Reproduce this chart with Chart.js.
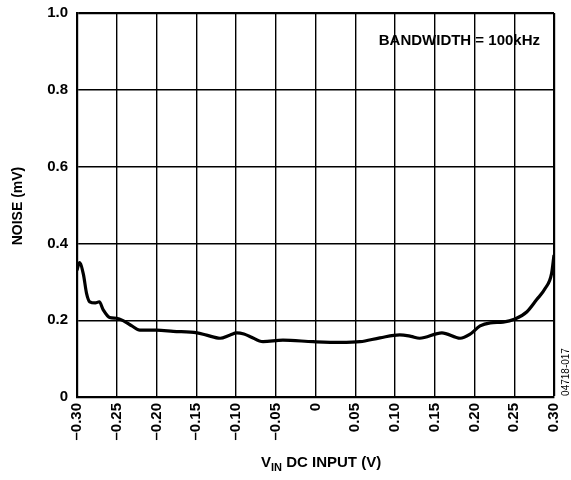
<!DOCTYPE html>
<html>
<head>
<meta charset="utf-8">
<script src="https://cdn.jsdelivr.net/npm/chart.js@4"></script>
<style>
  html, body { margin: 0; padding: 0; background: #fff; }
  #wrap { width: 571px; height: 480px; }
</style>
</head>
<body>
<div id="wrap"><canvas id="ruido"></canvas></div>
<script>
// valores
const vin = [-0.300, -0.297, -0.292, -0.288, -0.284, -0.277, -0.272, -0.267, -0.259, -0.250,
  -0.242, -0.231, -0.221, -0.200, -0.179, -0.149, -0.137, -0.120, -0.108, -0.099,
  -0.090, -0.082, -0.066, -0.041, -0.003, 0.031, 0.056, 0.081, 0.106, 0.120,
  0.131, 0.159, 0.182, 0.194, 0.207, 0.220, 0.236, 0.251, 0.266, 0.278,
  0.289, 0.297, 0.300];
const noise = [0.330, 0.350, 0.320, 0.270, 0.248, 0.245, 0.248, 0.227, 0.207, 0.205,
  0.199, 0.185, 0.174, 0.174, 0.171, 0.167, 0.161, 0.153, 0.161, 0.167,
  0.164, 0.157, 0.144, 0.148, 0.144, 0.142, 0.144, 0.154, 0.162, 0.158,
  0.153, 0.167, 0.153, 0.163, 0.185, 0.193, 0.195, 0.203, 0.222, 0.253,
  0.283, 0.322, 0.370];

const xTickValues = [-0.30, -0.25, -0.20, -0.15, -0.10, -0.05, 0, 0.05, 0.10, 0.15, 0.20, 0.25, 0.30];
const xTickLabels = ["\u20130.30", "\u20130.25", "\u20130.20", "\u20130.15", "\u20130.10", "\u20130.05", "0",
  "0.05", "0.10", "0.15", "0.20", "0.25", "0.30"];
const yTickValues = [0, 0.2, 0.4, 0.6, 0.8, 1.0];
const yTickLabels = ["0", "0.2", "0.4", "0.6", "0.8", "1.0"];

const fonte = "'Liberation Sans', Arial, sans-serif";

const textos = {
  id: "textos",
  afterDraw(chart) {
    const ctx = chart.ctx;
    ctx.save();
    ctx.fillStyle = "#000";

    // nota da banda
    ctx.font = "bold 15px " + fonte;
    ctx.textAlign = "right";
    ctx.textBaseline = "middle";
    ctx.fillText("BANDWIDTH = 100kHz", 540, 41);

    // titulo eixo x com subscrito
    ctx.textAlign = "left";
    ctx.textBaseline = "alphabetic";
    let x = 261;
    ctx.font = "bold 15px " + fonte;
    ctx.fillText("V", x, 467);
    x += ctx.measureText("V").width;
    ctx.font = "bold 11px " + fonte;
    ctx.fillText("IN", x, 471);
    x += ctx.measureText("IN").width;
    ctx.font = "bold 15px " + fonte;
    ctx.fillText(" DC INPUT (V)", x, 467);

    // titulo eixo y
    ctx.save();
    ctx.translate(18, 206);
    ctx.rotate(-Math.PI / 2);
    ctx.textAlign = "center";
    ctx.textBaseline = "middle";
    ctx.font = "bold 14px " + fonte;
    ctx.fillText("NOISE (mV)", 0, 0);
    ctx.restore();

    // codigo da figura
    ctx.save();
    ctx.translate(566, 372);
    ctx.rotate(-Math.PI / 2);
    ctx.textAlign = "center";
    ctx.textBaseline = "middle";
    ctx.font = "10px " + fonte;
    ctx.fillText("04718-017", 0, 0);
    ctx.restore();

    ctx.restore();
  },
};

function larguraGrade(ctx, ultimo) {
  const v = ctx.tick ? ctx.tick.value : 0;
  return Math.abs(v - ultimo) < 1e-9 ? 2.2 : 1.4;
}

new Chart(document.getElementById("ruido"), {
  type: "line",
  data: {
    datasets: [
      {
        label: "Noise",
        data: vin.map((v, i) => ({ x: v, y: noise[i] })),
        borderColor: "#000",
        backgroundColor: "#000",
        borderWidth: 3.2,
        pointRadius: 0,
        cubicInterpolationMode: "monotone",
        fill: false,
      },
    ],
  },
  options: {
    responsive: true,
    maintainAspectRatio: false,
    animation: false,
    layout: { padding: { left: 0, top: 13, right: 17, bottom: 0 } },
    plugins: {
      legend: { display: false },
      title: { display: false },
      tooltip: { enabled: false },
    },
    scales: {
      x: {
        type: "linear",
        min: -0.3,
        max: 0.3,
        afterBuildTicks: (s) => { s.ticks = xTickValues.map((v) => ({ value: v })); },
        afterFit: (s) => { s.height = 83; s.paddingLeft = 0; s.paddingRight = 0; },
        ticks: {
          autoSkip: false,
          maxRotation: 90,
          minRotation: 90,
          padding: 6,
          color: "#000",
          font: { family: fonte, size: 15, weight: "bold" },
          callback: (v, i) => xTickLabels[i],
        },
        grid: {
          color: "#000",
          lineWidth: (ctx) => larguraGrade(ctx, 0.3),
          drawTicks: false,
        },
        border: { display: true, color: "#000", width: 2.2 },
      },
      y: {
        min: 0,
        max: 1,
        afterBuildTicks: (s) => { s.ticks = yTickValues.map((v) => ({ value: v })); },
        afterFit: (s) => { s.width = 77; s.paddingTop = 0; s.paddingBottom = 0; },
        ticks: {
          padding: 9,
          color: "#000",
          font: { family: fonte, size: 15, weight: "bold" },
          callback: (v, i) => yTickLabels[i],
        },
        grid: {
          color: "#000",
          lineWidth: (ctx) => larguraGrade(ctx, 1.0),
          drawTicks: false,
        },
        border: { display: true, color: "#000", width: 2.2 },
      },
    },
  },
  plugins: [textos],
});
</script>
</body>
</html>
